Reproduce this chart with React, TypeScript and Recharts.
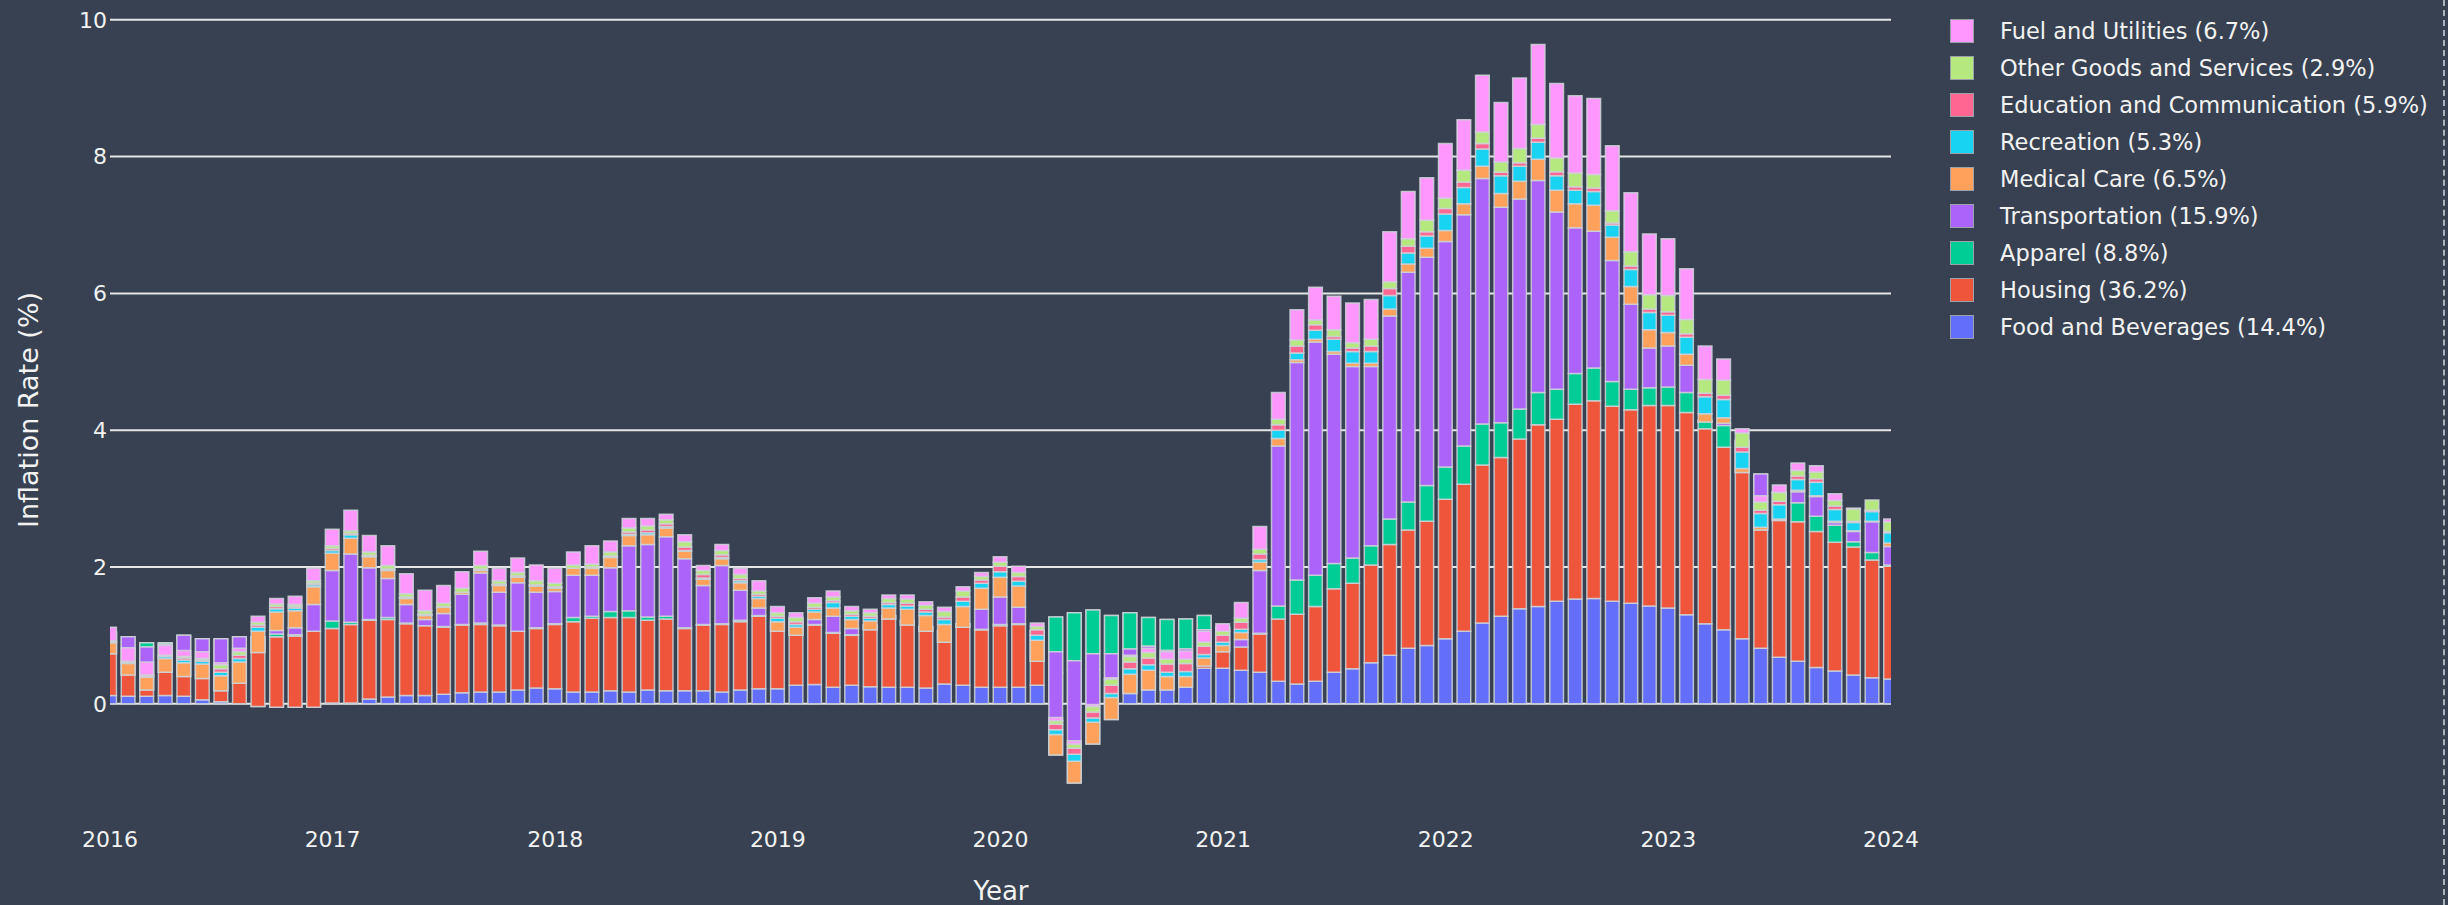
import { BarChart, Bar, XAxis, YAxis, CartesianGrid } from "recharts";

// monthly categories, Jan 2016 .. Jan 2024
const months: string[] = [];
for (let y = 2016; y <= 2024; y++) {
  for (let m = 1; m <= 12; m++) {
    if (months.length < 97) months.push(`${y}-${String(m).padStart(2, "0")}`);
  }
}

// contribution to inflation (percentage points), one value per month
const food = [
  0.12, 0.11, 0.11, 0.12, 0.11, 0.06, 0.03, 0, -0.04, -0.05, -0.05, -0.05,
  0.01, 0.01, 0.07, 0.1, 0.12, 0.12, 0.14, 0.16, 0.17, 0.17, 0.2, 0.23,
  0.22, 0.17, 0.17, 0.19, 0.17, 0.2, 0.19, 0.19, 0.19, 0.17, 0.2, 0.22,
  0.22, 0.27, 0.28, 0.24, 0.27, 0.25, 0.24, 0.24, 0.23, 0.29, 0.27, 0.24,
  0.24, 0.24, 0.27, 0.45, 0.5, 0.5, 0.45, 0.4, 0.4, 0.4, 0.4, 0.52,
  0.52, 0.49, 0.46, 0.33, 0.29, 0.33, 0.46, 0.51, 0.6, 0.71, 0.81, 0.85,
  0.95, 1.06, 1.18, 1.28, 1.39, 1.42, 1.5, 1.53, 1.54, 1.5, 1.47, 1.43,
  1.4, 1.3, 1.17, 1.08, 0.95, 0.81, 0.68, 0.62, 0.53, 0.48, 0.42, 0.38,
  0.36,
];
const housing = [
  0.93, 0.87, 0.78, 0.77, 0.89, 0.89, 0.92, 0.98, 1.02, 1.03, 1.04, 1.11,
  1.09, 1.15, 1.15, 1.13, 1.05, 1.02, 0.98, 0.99, 0.99, 0.97, 0.86, 0.87,
  0.94, 1.03, 1.08, 1.07, 1.09, 1.02, 1.05, 0.91, 0.96, 0.99, 1.0, 1.06,
  1.0, 0.98, 0.87, 0.79, 0.73, 0.9, 1.05, 0.98, 0.9, 0.78, 0.9, 0.84,
  0.9, 0.92, 0.8, 0.82, 0.83, 0.87, 0.84, 0.93, 0.86, 0.83, 0.84, 0.77,
  0.6, 0.34, 0.56, 0.91, 1.02, 1.09, 1.22, 1.25, 1.43, 1.62, 1.73, 1.82,
  2.04, 2.15, 2.31, 2.32, 2.48, 2.66, 2.66, 2.85, 2.89, 2.85, 2.83, 2.93,
  2.96, 2.96, 2.85, 2.67, 2.85, 2.55, 2.4, 2.04, 1.99, 1.88, 1.87, 1.72,
  1.65,
];
const apparel = [
  0, 0, -0.06, -0.02, 0, 0, 0, 0, 0, 0.04, 0.02, 0,
  0.11, 0.03, 0.01, 0.03, 0.01, 0, 0.01, 0.01, 0.02, 0.01, 0, 0.01,
  0.01, 0.06, 0.03, 0.09, 0.1, 0.05, 0.04, 0.01, 0.01, 0.01, 0.02, 0.01,
  0, 0, 0.01, 0.01, 0.01, 0, 0, 0, 0, 0, 0, 0.01,
  0.02, 0.01, -0.06, -0.51, -0.7, -0.64, -0.56, -0.53, -0.42, -0.45, -0.44, -0.21,
  -0.06, 0, 0.01, 0.19, 0.5, 0.46, 0.37, 0.37, 0.28, 0.37, 0.41, 0.52,
  0.47, 0.56, 0.6, 0.51, 0.44, 0.47, 0.44, 0.45, 0.48, 0.36, 0.3, 0.26,
  0.27, 0.29, 0.12, 0.32, 0.05, 0, 0.02, 0.28, 0.22, 0.25, 0.08, 0.11,
  0.02,
];
const transport = [
  -0.32, -0.56, -0.63, -0.41, -0.6, -0.58, -0.76, -0.68, -0.23, 0.05, 0.1, 0.39,
  0.74, 1.0, 0.76, 0.57, 0.27, 0.09, 0.19, 0.44, 0.73, 0.48, 0.71, 0.52,
  0.47, 0.62, 0.6, 0.64, 0.95, 1.06, 1.16, 1.01, 0.57, 0.85, 0.44, 0.11,
  -0.16, -0.25, 0.07, 0.24, 0.09, -0.07, -0.05, -0.07, -0.07, -0.17, -0.05, 0.29,
  0.4, 0.24, -0.39, -1.51, -1.79, -1.32, -0.96, -0.65, -0.64, -0.58, -0.56, -0.53,
  -0.3, 0.11, 0.92, 2.34, 3.18, 3.41, 3.06, 2.8, 2.62, 2.97, 3.36, 3.34,
  3.3, 3.38, 3.59, 3.15, 3.07, 3.1, 2.59, 2.13, 2.0, 1.77, 1.24, 0.58,
  0.6, 0.4, -0.02, 0.03, -0.47, -0.82, -0.42, 0.16, 0.29, 0.04, 0.15, 0.45,
  0.27,
];
const medical = [
  0.16, 0.17, 0.19, 0.2, 0.2, 0.21, 0.22, 0.31, 0.31, 0.27, 0.25, 0.26,
  0.25, 0.23, 0.16, 0.12, 0.09, 0.06, 0.09, 0.03, 0.04, 0.1, 0.08, 0.09,
  0.05, 0.1, 0.1, 0.15, 0.15, 0.14, 0.13, 0.11, 0.09, 0.1, 0.11, 0.14,
  0.14, 0.12, 0.11, 0.12, 0.13, 0.13, 0.16, 0.23, 0.23, 0.26, 0.3, 0.31,
  0.29, 0.31, 0.31, 0.3, 0.32, 0.32, 0.32, 0.28, 0.29, 0.2, 0.16, 0.12,
  0.09, 0.1, 0.12, 0.11, 0.04, 0.04, 0.04, 0.05, 0.05, 0.1, 0.12, 0.13,
  0.16, 0.16, 0.18, 0.2, 0.26, 0.31, 0.32, 0.35, 0.38, 0.34, 0.26, 0.27,
  0.2, 0.16, 0.12, 0.08, 0.06, 0.04, 0.02, 0.02, 0.01, 0.02, 0.01, 0.01,
  0.05,
];
const recreation = [
  0.01, 0.01, 0.01, 0.03, 0.04, 0.04, 0.05, 0.05, 0.06, 0.05, 0.04, 0.03,
  0.04, 0.05, 0.01, 0.01, 0.01, 0.01, 0, 0, 0.01, 0.01, 0.01, 0.01,
  0.01, 0, 0.01, 0.01, 0.02, 0.03, 0.02, 0.01, 0.02, 0.02, 0.03, 0.03,
  0.05, 0.04, 0.04, 0.08, 0.05, 0.04, 0.05, 0.05, 0.05, 0.07, 0.08, 0.07,
  0.08, 0.07, 0.07, 0.07, 0.1, 0.06, 0.06, 0.08, 0.08, 0.06, 0.07, 0.05,
  0.05, 0.05, 0.04, 0.12, 0.1, 0.13, 0.18, 0.17, 0.17, 0.2, 0.16, 0.18,
  0.24, 0.24, 0.25, 0.26, 0.22, 0.25, 0.21, 0.2, 0.2, 0.18, 0.25, 0.25,
  0.25, 0.25, 0.25, 0.27, 0.24, 0.2, 0.21, 0.16, 0.2, 0.17, 0.12, 0.14,
  0.15,
];
const education = [
  0.01, 0.01, 0.01, 0.01, 0.03, 0.02, 0.05, 0.05, 0.03, 0.03, 0.02, 0.02,
  0.03, 0.02, 0.01, 0.01, 0.01, 0.01, 0.01, 0, 0.01, 0.01, 0.01, 0.01,
  0.01, 0, 0.01, 0.01, 0.03, 0.04, 0.04, 0.05, 0.05, 0.04, 0.03, 0.03,
  0.03, 0.04, 0.03, 0.03, 0.03, 0.03, 0.03, 0.04, 0.04, 0.04, 0.06, 0.05,
  0.08, 0.07, 0.08, 0.08, 0.09, 0.09, 0.12, 0.1, 0.1, 0.12, 0.12, 0.12,
  0.1, 0.1, 0.08, 0.08, 0.1, 0.08, 0.04, 0.05, 0.08, 0.1, 0.1, 0.06,
  0.08, 0.08, 0.08, 0.05, 0.05, 0.06, 0.06, 0.05, 0.05, 0.03, 0.05, 0.05,
  0.05, 0.05, 0.05, 0.06, 0.07, 0.05, 0.05, 0.05, 0.05, 0.05, 0.02, 0.02,
  0.02,
];
const otherGoods = [
  0.01, 0.01, 0.01, 0.01, 0.02, 0.02, 0.06, 0.05, 0.04, 0.04, 0.03, 0.04,
  0.04, 0.04, 0.05, 0.05, 0.05, 0.05, 0.05, 0.06, 0.05, 0.05, 0.05, 0.06,
  0.05, 0.05, 0.04, 0.06, 0.06, 0.06, 0.06, 0.08, 0.06, 0.06, 0.06, 0.05,
  0.05, 0.06, 0.06, 0.05, 0.05, 0.05, 0.06, 0.06, 0.06, 0.08, 0.09, 0.05,
  0.06, 0.06, 0.05, 0.05, 0.06, 0.08, 0.09, 0.08, 0.08, 0.07, 0.06, 0.06,
  0.06, 0.06, 0.07, 0.08, 0.09, 0.07, 0.1, 0.08, 0.1, 0.1, 0.11, 0.17,
  0.15, 0.17, 0.17, 0.15, 0.21, 0.2, 0.2, 0.2, 0.2, 0.18, 0.21, 0.21,
  0.24, 0.21, 0.2, 0.22, 0.21, 0.12, 0.13, 0.08, 0.1, 0.08, 0.18, 0.15,
  0.14,
];
const fuel = [
  0.2, 0.2, 0.19, 0.14, 0.09, 0.1, 0.03, 0.05, 0.09, 0.08, 0.12, 0.18,
  0.24, 0.3, 0.24, 0.29, 0.29, 0.3, 0.26, 0.24, 0.21, 0.18, 0.21, 0.23,
  0.22, 0.19, 0.27, 0.16, 0.14, 0.11, 0.08, 0.1, 0.07, 0.09, 0.09, 0.15,
  0.09, 0.07, 0.08, 0.09, 0.06, 0.05, 0.05, 0.06, 0.05, 0.06, 0.06, 0.06,
  0.08, 0.09, 0.05, 0.05, 0.05, 0.03, 0.02, 0.02, 0.06, 0.11, 0.12, 0.16,
  0.11, 0.23, 0.33, 0.39, 0.44, 0.48, 0.49, 0.58, 0.58, 0.73, 0.69, 0.62,
  0.8, 0.74, 0.83, 0.87, 1.03, 1.17, 1.09, 1.13, 1.11, 0.95, 0.86, 0.89,
  0.83, 0.74, 0.49, 0.31, 0.06, 0.09, 0.11, 0.11, 0.09, 0.1, 0.01, 0,
  0.04,
];

const yearLabels = ["2016", "2017", "2018", "2019", "2020", "2021", "2022", "2023", "2024"];
const yearTicks = [0, 12, 24, 36, 48, 60, 72, 84, 96];
const yTicks = [0, 2, 4, 6, 8, 10];

const series = [
  { key: "food", name: "Food and Beverages (14.4%)", color: "#636EFA", values: food },
  { key: "housing", name: "Housing (36.2%)", color: "#EF553B", values: housing },
  { key: "apparel", name: "Apparel (8.8%)", color: "#00CC96", values: apparel },
  { key: "transport", name: "Transportation (15.9%)", color: "#AB63FA", values: transport },
  { key: "medical", name: "Medical Care (6.5%)", color: "#FFA15A", values: medical },
  { key: "recreation", name: "Recreation (5.3%)", color: "#19D3F3", values: recreation },
  { key: "education", name: "Education and Communication (5.9%)", color: "#FF6692", values: education },
  { key: "other", name: "Other Goods and Services (2.9%)", color: "#B6E880", values: otherGoods },
  { key: "fuel", name: "Fuel and Utilities (6.7%)", color: "#FF97FF", values: fuel },
];

const data = months.map((m, i) => {
  const row: Record<string, number | string> = { idx: i, month: m };
  series.forEach((s) => {
    row[s.key] = s.values[i];
  });
  return row;
});

const BG = "#374151";
const TEXT = "#f2f2f2";
const FONT = '"DejaVu Sans", Verdana, sans-serif';

// grid lines only at the y ticks, not at the plot edges
function GridLine(p: any) {
  if (p.y1 < 3 || p.y1 > 816) return <g key={p.key} />;
  return (
    <line
      key={p.key}
      x1={p.x1}
      x2={p.x2}
      y1={p.y1}
      y2={p.y2}
      stroke="#e6e6e6"
      strokeWidth={2}
    />
  );
}

export default function App() {
  return (
    <div
      style={{
        position: "relative",
        width: 2448,
        height: 905,
        background: BG,
        fontFamily: FONT,
        overflow: "hidden",
      }}
    >
      <style>{"body{margin:0}"}</style>
      <BarChart
        width={2448}
        height={905}
        data={data}
        margin={{ top: 0, right: 557, bottom: 0, left: 0 }}
        barSize={13.7}
      >
        <CartesianGrid vertical={false} horizontal={GridLine} />
        <XAxis
          dataKey="idx"
          type="number"
          domain={[0, 96]}
          ticks={yearTicks}
          interval={0}
          allowDataOverflow
          tickFormatter={(v) => yearLabels[yearTicks.indexOf(v)]}
          axisLine={false}
          tickLine={false}
          tickSize={0}
          tickMargin={11}
          height={85}
          tick={{ fill: TEXT, fontSize: 22, fontFamily: FONT }}
        />
        <YAxis
          domain={[-1.7, 10.29]}
          ticks={yTicks}
          interval={0}
          allowDataOverflow
          width={110}
          axisLine={false}
          tickLine={false}
          tickSize={0}
          tickMargin={3}
          tick={{ fill: TEXT, fontSize: 22, fontFamily: FONT }}
        />
        {series.map((s) => (
          <Bar
            key={s.key}
            dataKey={s.key}
            name={s.name}
            stackId="cpi"
            fill={s.color}
            stroke="rgba(205,210,215,0.85)"
            strokeWidth={1.5}
            isAnimationActive={false}
          />
        ))}
      </BarChart>

      {/* axis titles */}
      <div
        style={{
          position: "absolute",
          left: 28,
          top: 410,
          transform: "translate(-50%, -50%) rotate(-90deg)",
          whiteSpace: "nowrap",
          fontSize: 27,
          color: TEXT,
        }}
      >
        Inflation Rate (%)
      </div>
      <div
        style={{
          position: "absolute",
          left: 1001,
          top: 878,
          transform: "translateX(-50%)",
          fontSize: 26,
          lineHeight: "26px",
          color: TEXT,
        }}
      >
        Year
      </div>

      {/* legend, top trace first */}
      <div style={{ position: "absolute", left: 1950, top: 18 }}>
        {[...series].reverse().map((s, k) => (
          <div
            key={s.key}
            style={{
              position: "absolute",
              top: k * 37,
              left: 0,
              height: 25,
              display: "flex",
              alignItems: "center",
              whiteSpace: "nowrap",
            }}
          >
            <div
              style={{
                width: 22,
                height: 22,
                background: s.color,
                border: "1.5px solid #9aa1a8",
              }}
            />
            <span style={{ marginLeft: 26, fontSize: 22.5, color: TEXT }}>{s.name}</span>
          </div>
        ))}
      </div>

      <div
        style={{
          position: "absolute",
          left: 2443,
          top: 0,
          height: 905,
          borderLeft: "2px dashed #aab3bc",
        }}
      />
    </div>
  );
}
